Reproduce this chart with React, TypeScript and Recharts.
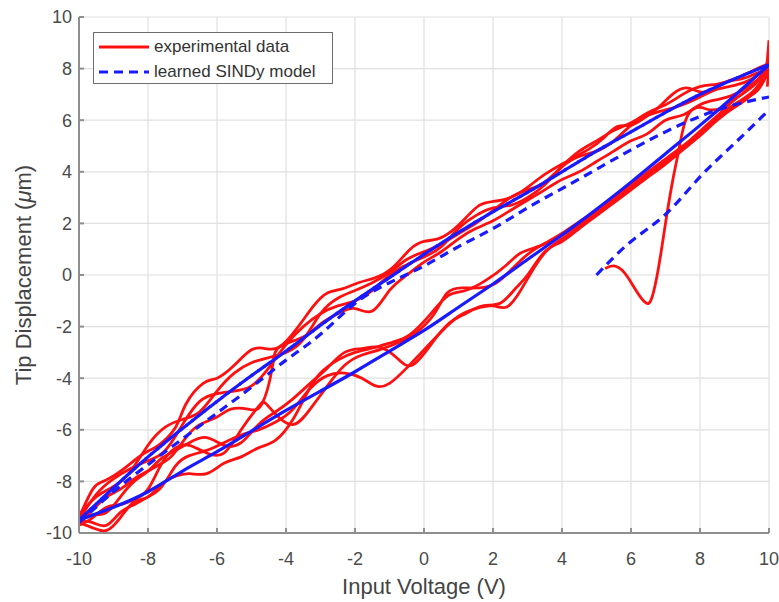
import React from 'react';
import { LineChart, Line, XAxis, YAxis, CartesianGrid, Legend } from 'recharts';

const voltTicks = [-10, -8, -6, -4, -2, 0, 2, 4, 6, 8, 10];
const dispTicks = [-10, -8, -6, -4, -2, 0, 2, 4, 6, 8, 10];

// experimental data, falling-voltage branches
const expDown1 = [
  [10, 8.0], [9.6, 7.8], [9.2, 7.6], [8.8, 7.5], [8.4, 7.2], [8.0, 7.1], [7.6, 7.25], [7.2, 7.0],
  [6.8, 6.5], [6.4, 6.1], [6.0, 5.8], [5.6, 5.75], [5.2, 5.3], [4.8, 4.9], [4.4, 4.6], [4.0, 4.3],
  [3.5, 3.9], [3.0, 3.4], [2.5, 3.0], [2.0, 2.85], [1.6, 2.7], [1.2, 2.2], [0.8, 1.7], [0.4, 1.4],
  [0, 1.3], [-0.4, 1.0], [-0.9, 0.3], [-1.4, -0.1], [-1.9, -0.3], [-2.4, -0.55], [-2.8, -0.7],
  [-3.2, -1.2], [-3.7, -2.1], [-4.2, -2.8], [-4.6, -2.85], [-5.0, -2.9], [-5.5, -3.5], [-6.0, -4.0],
  [-6.4, -4.2], [-6.9, -5.0], [-7.2, -5.9], [-7.7, -6.6], [-8.1, -6.9], [-8.5, -7.3], [-8.9, -7.7],
  [-9.3, -8.0], [-9.6, -8.3], [-10, -9.4],
];
const expDown2 = [
  [10, 7.9], [9.5, 7.4], [9.0, 7.0], [8.5, 6.8], [8.0, 6.6], [7.5, 6.2], [7.0, 6.0], [6.5, 5.5],
  [6.0, 5.2], [5.5, 4.8], [5.0, 4.4], [4.5, 4.0], [4.0, 3.7], [3.5, 3.3], [3.0, 2.9], [2.5, 2.5],
  [2.0, 2.1], [1.5, 1.8], [1.0, 1.4], [0.5, 0.9], [0, 0.5], [-0.5, 0.0], [-1.0, -0.6], [-1.5, -1.4],
  [-2.0, -1.3], [-2.5, -1.5], [-3.0, -1.9], [-3.5, -2.4], [-4.2, -2.8], [-4.4, -3.6], [-4.7, -5.0],
  [-5.1, -5.2], [-5.6, -5.2], [-6.0, -5.5], [-6.5, -5.8], [-6.9, -6.3], [-7.3, -7.0], [-7.6, -7.3],
  [-8.0, -7.6], [-8.4, -7.9], [-8.8, -8.3], [-9.2, -8.6], [-9.6, -9.1], [-10, -9.6],
];
const expDown3 = [
  [10, 8.1], [9.5, 7.6], [9.0, 7.35], [8.5, 7.2], [8.0, 6.9], [7.5, 6.6], [7.0, 6.4], [6.5, 6.2],
  [6.0, 5.8], [5.5, 5.2], [5.0, 4.8], [4.5, 4.6], [4.0, 4.2], [3.5, 3.6], [3.0, 3.3], [2.5, 3.0],
  [2.0, 2.5], [1.5, 2.0], [1.0, 1.6], [0.5, 1.2], [0, 0.9], [-0.5, 0.6], [-1.0, 0.1], [-1.5, -0.3],
  [-2.0, -0.6], [-2.5, -0.9], [-3.0, -1.5], [-3.5, -2.5], [-4.0, -3.0], [-4.5, -3.2], [-5.0, -3.4],
  [-5.5, -3.8], [-6.0, -4.5], [-6.5, -5.3], [-7.0, -5.6], [-7.5, -5.9], [-8.0, -6.6], [-8.5, -7.6],
  [-9.0, -8.2], [-9.5, -8.6], [-10, -9.3],
];
const expDown4 = [
  [10, 8.2], [9.5, 7.9], [9.0, 7.6], [8.5, 7.4], [8.0, 7.3], [7.5, 7.0], [7.0, 6.6], [6.5, 6.3],
  [6.0, 5.9], [5.5, 5.6], [5.0, 5.2], [4.5, 4.8], [4.0, 4.2], [3.5, 3.5], [3.0, 3.0], [2.5, 2.7],
  [2.0, 2.6], [1.5, 2.3], [1.0, 1.8], [0.5, 1.1], [0, 0.7], [-0.5, 0.4], [-1.0, 0.0], [-1.5, -0.6],
  [-2.0, -1.0], [-2.5, -1.2], [-3.0, -1.5], [-3.5, -2.0], [-4.0, -2.7], [-4.5, -3.6], [-5.0, -4.3],
  [-5.5, -4.5], [-6.0, -4.6], [-6.5, -4.9], [-7.0, -5.8], [-7.5, -6.8], [-8.0, -7.2], [-8.5, -7.5],
  [-9.0, -7.9], [-9.5, -8.5], [-10, -9.5],
];

// experimental data, rising-voltage branches
const expUp1 = [
  [-10, -9.6], [-9.6, -9.8], [-9.2, -9.9], [-8.8, -9.4], [-8.4, -8.8], [-8.0, -8.6], [-7.6, -8.1],
  [-7.2, -7.8], [-6.8, -7.7], [-6.3, -7.7], [-5.8, -7.3], [-5.3, -7.05], [-4.8, -6.7], [-4.3, -6.4],
  [-3.8, -5.6], [-3.4, -4.6], [-3.0, -3.8], [-2.5, -3.3], [-2.0, -3.0], [-1.4, -2.8], [-0.9, -2.6],
  [-0.4, -2.3], [0.2, -1.5], [0.7, -0.8], [1.2, -0.6], [1.8, -0.2], [2.4, 0.4], [2.8, 0.85],
  [3.3, 1.1], [3.8, 1.4], [4.3, 1.8], [5.0, 2.5], [5.5, 3.0], [6.0, 3.45], [6.5, 3.9], [7.0, 4.4],
  [7.5, 4.9], [8.0, 5.5], [8.5, 6.1], [9.0, 6.6], [9.4, 6.9], [9.7, 7.2], [10, 7.9],
];
const expUp2 = [
  [-10, -9.4], [-9.6, -9.3], [-9.2, -9.2], [-8.8, -8.6], [-8.4, -8.0], [-8.0, -7.6], [-7.6, -7.1],
  [-7.2, -6.8], [-6.8, -6.5], [-6.3, -6.3], [-5.8, -6.6], [-5.3, -6.5], [-4.8, -5.8], [-4.3, -5.3],
  [-3.8, -4.8], [-3.3, -4.2], [-2.8, -3.6], [-2.3, -3.0], [-1.8, -2.85], [-1.3, -2.8], [-0.8, -3.2],
  [-0.35, -3.5], [0.2, -2.7], [0.7, -1.9], [1.2, -1.5], [1.7, -1.2], [2.2, -1.1], [2.6, -0.6],
  [3.0, 0.0], [3.5, 0.9], [4.0, 1.3], [4.5, 1.8], [5.0, 2.3], [5.5, 2.8], [6.0, 3.3], [6.5, 3.8],
  [7.0, 4.3], [7.5, 4.85], [8.0, 5.4], [8.5, 6.0], [9.0, 6.5], [9.5, 7.0], [10, 8.0],
];
const expUp3 = [
  [-10, -9.5], [-9.6, -9.6], [-9.2, -9.7], [-8.8, -9.2], [-8.4, -8.9], [-8.0, -8.6], [-7.6, -8.2],
  [-7.2, -7.4], [-6.8, -7.0], [-6.3, -6.8], [-5.8, -6.5], [-5.3, -6.2], [-4.8, -6.0], [-4.3, -5.7],
  [-3.8, -5.2], [-3.3, -4.4], [-2.8, -3.9], [-2.3, -3.8], [-1.8, -4.0], [-1.4, -4.3], [-1.0, -4.2],
  [-0.5, -3.6], [0, -2.9], [0.5, -2.2], [1.0, -1.6], [1.5, -1.3], [2.0, -1.2], [2.4, -1.24],
  [2.8, -0.6], [3.2, 0.3], [3.6, 1.0], [4.1, 1.5], [4.6, 2.0], [5.1, 2.5], [5.6, 3.0], [6.1, 3.5],
  [6.6, 4.0], [7.1, 4.5], [7.6, 5.0], [8.1, 5.6], [8.6, 6.2], [9.1, 6.7], [9.6, 7.2], [10, 8.1],
];
const expUp4 = [
  [-10, -9.7], [-9.6, -9.4], [-9.2, -9.0], [-8.8, -8.9], [-8.4, -8.7], [-8.0, -8.3], [-7.6, -7.3],
  [-7.2, -6.7], [-6.8, -6.6], [-6.3, -6.9], [-5.8, -6.9], [-5.3, -6.0], [-4.8, -5.1], [-4.6, -4.96],
  [-4.3, -5.4], [-3.8, -5.8], [-3.3, -5.2], [-2.8, -4.3], [-2.3, -3.5], [-1.8, -3.1], [-1.3, -2.9],
  [-0.7, -2.6], [-0.2, -2.2], [0.3, -1.5], [0.67, -0.7], [1.1, -0.5], [1.6, -0.5], [2.1, -0.3],
  [2.6, 0.3], [3.1, 0.9], [3.6, 1.3], [4.1, 1.7], [4.6, 2.15], [5.1, 2.6], [5.6, 3.1], [6.1, 3.6],
  [6.6, 4.1], [7.1, 4.6], [7.6, 5.1], [8.1, 5.7], [8.6, 6.3], [9.1, 6.9], [9.6, 7.4], [10, 8.2],
];

// start-up transient and the spike at full voltage
const expStart = [
  [5.25, 0.25], [5.5, 0.35], [5.8, 0.1], [6.1, -0.5], [6.4, -1.05], [6.6, -0.9], [6.8, 0.3],
  [7.0, 2.0], [7.2, 3.6], [7.35, 4.6], [7.5, 5.6], [7.7, 6.3], [8.0, 6.5], [8.3, 6.4], [8.7, 6.5],
  [9.0, 6.8], [9.4, 7.2], [9.7, 7.6], [9.9, 8.0],
];
const expSpike = [[9.85, 7.6], [9.95, 8.3], [10, 9.1], [10, 8.0], [9.95, 7.3]];

// learned SINDy model
const modelDown = [
  [-10, -9.5], [-9, -8.25], [-8, -7.05], [-7, -5.95], [-6, -4.9], [-5, -3.9], [-4, -2.95],
  [-3, -1.95], [-2, -1.0], [-1, -0.1], [0, 0.8], [1, 1.65], [2, 2.45], [3, 3.2], [4, 4.0],
  [5, 4.8], [6, 5.55], [7, 6.3], [8, 7.0], [9, 7.6], [10, 8.15],
];
const modelUp = [
  [-10, -9.5], [-9, -9.0], [-8, -8.4], [-7, -7.6], [-6, -6.85], [-5, -6.05], [-4, -5.25],
  [-3, -4.5], [-2, -3.75], [-1, -2.95], [0, -2.15], [1, -1.25], [2, -0.35], [3, 0.6], [4, 1.55],
  [5, 2.55], [6, 3.6], [7, 4.7], [8, 5.8], [9, 6.95], [10, 8.15],
];
const modelInner = [
  [-10, -9.6], [-9, -8.4], [-8, -7.35], [-7, -6.35], [-6, -5.35], [-5, -4.35], [-4, -3.3],
  [-3, -2.3], [-2, -1.1], [-1, -0.3], [0, 0.35], [1, 1.1], [2, 1.8], [3, 2.6], [4, 3.35],
  [5, 4.1], [6, 4.85], [7, 5.55], [8, 6.15], [9, 6.6], [10, 6.9],
];
const modelStart = [[5, 0], [6, 1.3], [7, 2.35], [8, 3.8], [9, 5.1], [10, 6.4]];

const toPts = (arr: number[][]) => arr.map(([x, y]) => ({ x, y }));

const RED = '#ff1010';
const BLUE = '#1a1aff';
const FONT = 'Liberation Sans, Arial, Helvetica, sans-serif';
const DASH = '9 6';
const AXIS = '#8f8f8f';

const redSeries = [expDown1, expDown2, expDown3, expDown4, expUp1, expUp2, expUp3, expUp4, expStart];

const LegendBox = (props: any) => {
  const items = (props.payload || []).filter((p: any) => p.type !== 'none');
  return (
    <div
      style={{
        border: '1.5px solid #6e6e6e',
        background: '#fff',
        width: 240,
        height: 52,
        boxSizing: 'border-box',
        padding: '1px 0 0 4px',
        fontFamily: FONT,
        fontSize: 17,
        color: '#333',
      }}
    >
      {items.map((it: any) => (
        <div key={it.value} style={{ display: 'flex', alignItems: 'center', height: 25 }}>
          <svg width={52} height={10} style={{ marginRight: 4 }}>
            <line
              x1={1}
              y1={5}
              x2={51}
              y2={5}
              stroke={it.color}
              strokeWidth={3.2}
              strokeDasharray={it.payload?.strokeDasharray}
            />
          </svg>
          <span>{it.value}</span>
        </div>
      ))}
    </div>
  );
};

const YLabel = (props: any) => {
  const vb = props.viewBox || { x: 19, y: 17, height: 516 };
  const cx = vb.x + 4;
  const cy = vb.y + vb.height / 2;
  return (
    <text
      x={cx}
      y={cy}
      transform={`rotate(-90, ${cx}, ${cy})`}
      textAnchor="middle"
      dominantBaseline="central"
      fill="#444"
      fontSize={22}
      fontFamily={FONT}
    >
      Tip Displacement (<tspan fontStyle="italic">μ</tspan>m)
    </text>
  );
};

const tickStyle = { fill: '#4a4a4a', fontSize: 18, fontFamily: FONT };

export default function App() {
  return (
    <div style={{ position: 'absolute', left: 0, top: 0, background: '#fff' }}>
      <LineChart width={779} height={602} margin={{ top: 17, right: 10, bottom: 6, left: 19 }}>
        <CartesianGrid stroke="#e0e0e0" strokeWidth={1.2} />
        <XAxis
          dataKey="x"
          type="number"
          domain={[-10, 10]}
          ticks={voltTicks}
          allowDataOverflow
          height={63}
          stroke={AXIS}
          strokeWidth={2}
          tickSize={-5}
          tickMargin={24}
          tick={tickStyle}
          label={{
            value: 'Input Voltage (V)',
            position: 'insideBottom',
            offset: 2,
            fill: '#444',
            fontSize: 22,
            fontFamily: FONT,
          }}
        />
        <XAxis
          xAxisId="top"
          orientation="top"
          dataKey="x"
          type="number"
          domain={[-10, 10]}
          ticks={voltTicks}
          allowDataOverflow
          height={0}
          stroke={AXIS}
          strokeWidth={2}
          tickSize={-5}
          tickFormatter={() => ''}
        />
        <YAxis
          dataKey="y"
          type="number"
          domain={[-10, 10]}
          ticks={dispTicks}
          allowDataOverflow
          width={60}
          stroke={AXIS}
          strokeWidth={2}
          tickSize={-5}
          tickMargin={12}
          tick={tickStyle}
          label={{ content: YLabel }}
        />
        <YAxis
          yAxisId="right"
          orientation="right"
          dataKey="y"
          type="number"
          domain={[-10, 10]}
          ticks={dispTicks}
          allowDataOverflow
          width={0}
          stroke={AXIS}
          strokeWidth={2}
          tickSize={-5}
          tickFormatter={() => ''}
        />
        <Legend
          layout="horizontal"
          verticalAlign="middle"
          align="center"
          content={LegendBox}
          wrapperStyle={{ left: 93, top: 32, width: 240, height: 52 }}
        />
        {redSeries.map((s, i) => (
          <Line
            key={`exp${i}`}
            data={toPts(s)}
            dataKey="y"
            name="experimental data"
            type="natural"
            stroke={RED}
            strokeWidth={2.8}
            dot={false}
            activeDot={false}
            legendType={i === 0 ? 'line' : 'none'}
            isAnimationActive={false}
          />
        ))}
        <Line
          data={toPts(expSpike)}
          dataKey="y"
          type="linear"
          stroke={RED}
          strokeWidth={2.8}
          dot={false}
          legendType="none"
          isAnimationActive={false}
        />
        <Line
          data={toPts(modelDown)}
          dataKey="y"
          name="learned SINDy model"
          type="natural"
          stroke={BLUE}
          strokeWidth={3.2}
          strokeDasharray={DASH}
          dot={false}
          isAnimationActive={false}
        />
        <Line
          data={toPts(modelDown)}
          dataKey="y"
          type="natural"
          stroke={BLUE}
          strokeWidth={3.2}
          strokeDasharray={DASH}
          strokeDashoffset={7}
          dot={false}
          legendType="none"
          isAnimationActive={false}
        />
        <Line
          data={toPts(modelUp)}
          dataKey="y"
          type="natural"
          stroke={BLUE}
          strokeWidth={3.2}
          dot={false}
          legendType="none"
          isAnimationActive={false}
        />
        <Line
          data={toPts(modelInner)}
          dataKey="y"
          type="natural"
          stroke={BLUE}
          strokeWidth={3.2}
          strokeDasharray={DASH}
          dot={false}
          legendType="none"
          isAnimationActive={false}
        />
        <Line
          data={toPts(modelStart)}
          dataKey="y"
          type="natural"
          stroke={BLUE}
          strokeWidth={3.2}
          strokeDasharray={DASH}
          dot={false}
          legendType="none"
          isAnimationActive={false}
        />
      </LineChart>
    </div>
  );
}
